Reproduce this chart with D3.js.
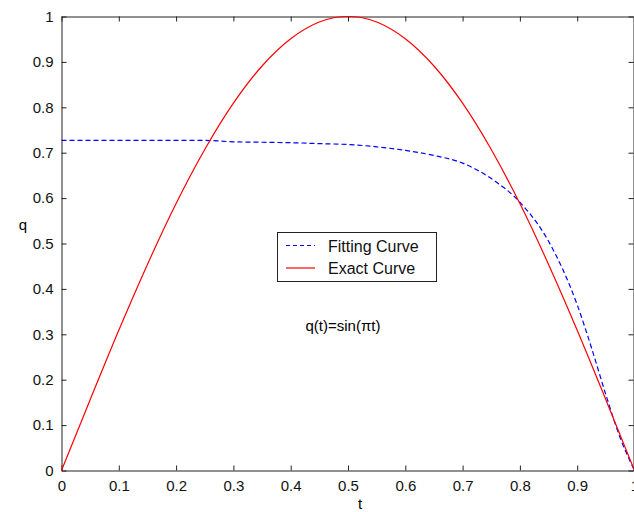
<!DOCTYPE html>
<html>
<head>
<meta charset="utf-8">
<script src="https://cdn.jsdelivr.net/npm/d3@7"></script>
<style>
  body { margin: 0; background: #fff; }
  text { font-family: Arial, "Liberation Sans", sans-serif; }
</style>
</head>
<body>
<script>
// ----------------------------------------
//  Data
// ----------------------------------------

var tickValues = [0, 0.1, 0.2, 0.3, 0.4, 0.5, 0.6, 0.7, 0.8, 0.9, 1];

var exactT = [0, 0.05, 0.1, 0.15, 0.2, 0.25, 0.3, 0.35, 0.4, 0.45, 0.5,
              0.55, 0.6, 0.65, 0.7, 0.75, 0.8, 0.85, 0.9, 0.95, 1];
var exactQ = [0, 0.156, 0.309, 0.454, 0.588, 0.707, 0.809, 0.891, 0.951, 0.988, 1,
              0.988, 0.951, 0.891, 0.809, 0.707, 0.588, 0.454, 0.309, 0.156, 0];

var fitT = [0, 0.05, 0.1, 0.15, 0.2, 0.25, 0.3, 0.35, 0.4, 0.45, 0.5, 0.55,
            0.6, 0.65, 0.7, 0.75, 0.8, 0.85, 0.9, 0.925, 0.95, 0.975, 1];
var fitQ = [0.727, 0.727, 0.727, 0.727, 0.727, 0.727, 0.724, 0.723, 0.722, 0.720, 0.718, 0.713,
            0.705, 0.694, 0.677, 0.643, 0.591, 0.505, 0.365, 0.27, 0.167, 0.072, 0];

var legendLabels = ["Fitting Curve", "Exact Curve"];

// ----------------------------------------
//  Size and scales
// ----------------------------------------

var W = 634, H = 512;
var plotL = 61.5, plotR = 634.5, plotT = 16.5, plotB = 470.5;

var x = d3.scaleLinear().domain([0, 1]).range([plotL, plotR]);
var y = d3.scaleLinear().domain([0, 1]).range([plotB, plotT]);

var svg = d3.select("body").append("svg")
    .attr("width", W)
    .attr("height", H);

var fmt = function(d) { return String(+d.toFixed(1)); };

// frame with inward ticks on every side
function styleAxis(g) {
  g.select(".domain").attr("stroke", "#222").attr("stroke-width", 1);
  g.selectAll(".tick line").attr("stroke", "#222").attr("stroke-width", 1);
  g.selectAll(".tick text").attr("fill", "#111").style("font-size", "15px");
}

svg.append("g")
    .attr("transform", "translate(0," + plotB + ")")
    .call(d3.axisBottom(x).tickValues(tickValues).tickFormat(fmt).tickSizeInner(-5).tickSizeOuter(0).tickPadding(10))
    .call(styleAxis);

svg.append("g")
    .attr("transform", "translate(" + plotL + ",0)")
    .call(d3.axisLeft(y).tickValues(tickValues).tickFormat(fmt).tickSizeInner(-5).tickSizeOuter(0).tickPadding(8))
    .call(styleAxis);

svg.append("g")
    .attr("transform", "translate(0," + plotT + ")")
    .call(d3.axisTop(x).tickValues(tickValues).tickFormat("").tickSizeInner(-5).tickSizeOuter(0))
    .call(styleAxis);

svg.append("g")
    .attr("transform", "translate(" + (plotR - 1) + ",0)")
    .call(d3.axisRight(y).tickValues(tickValues).tickFormat("").tickSizeInner(-5).tickSizeOuter(0))
    .call(styleAxis);

// ----------------------------------------
//  Curves
// ----------------------------------------

var line = d3.line()
    .x(function(d) { return x(d[0]); })
    .y(function(d) { return y(d[1]); })
    .curve(d3.curveMonotoneX);

svg.append("path")
    .datum(d3.zip(fitT, fitQ))
    .attr("fill", "none")
    .attr("stroke", "#0000ff")
    .attr("stroke-width", 1.2)
    .attr("stroke-dasharray", "5,3")
    .attr("d", line);

svg.append("path")
    .datum(d3.zip(exactT, exactQ))
    .attr("fill", "none")
    .attr("stroke", "#ff0000")
    .attr("stroke-width", 1.2)
    .attr("d", line);

// ----------------------------------------
//  Labels
// ----------------------------------------

svg.append("text")
    .attr("x", 360).attr("y", 509)
    .attr("text-anchor", "middle")
    .style("font-size", "15px")
    .text("t");

svg.append("text")
    .attr("x", 23).attr("y", 230)
    .attr("text-anchor", "middle")
    .style("font-size", "15px")
    .text("q");

svg.append("text")
    .attr("x", 343).attr("y", 331)
    .attr("text-anchor", "middle")
    .style("font-size", "15px")
    .text("q(t)=sin(\u03c0t)");

// legend
var lg = svg.append("g").attr("transform", "translate(277,232)");
lg.append("rect")
    .attr("x", 0.5).attr("y", 0.5)
    .attr("width", 159).attr("height", 49)
    .attr("fill", "#fff")
    .attr("stroke", "#222");

var legendColors = ["#0000ff", "#ff0000"];
var legendDash = ["4,3", null];
legendLabels.forEach(function(label, i) {
  var ly = 13.5 + i * 22.5;
  lg.append("line")
      .attr("x1", 9).attr("x2", 38)
      .attr("y1", ly).attr("y2", ly)
      .attr("stroke", legendColors[i])
      .attr("stroke-width", 1.2)
      .attr("stroke-dasharray", legendDash[i]);
  lg.append("text")
      .attr("x", 51).attr("y", ly + 6)
      .style("font-size", "16px")
      .attr("fill", "#111")
      .text(label);
});
</script>
</body>
</html>
